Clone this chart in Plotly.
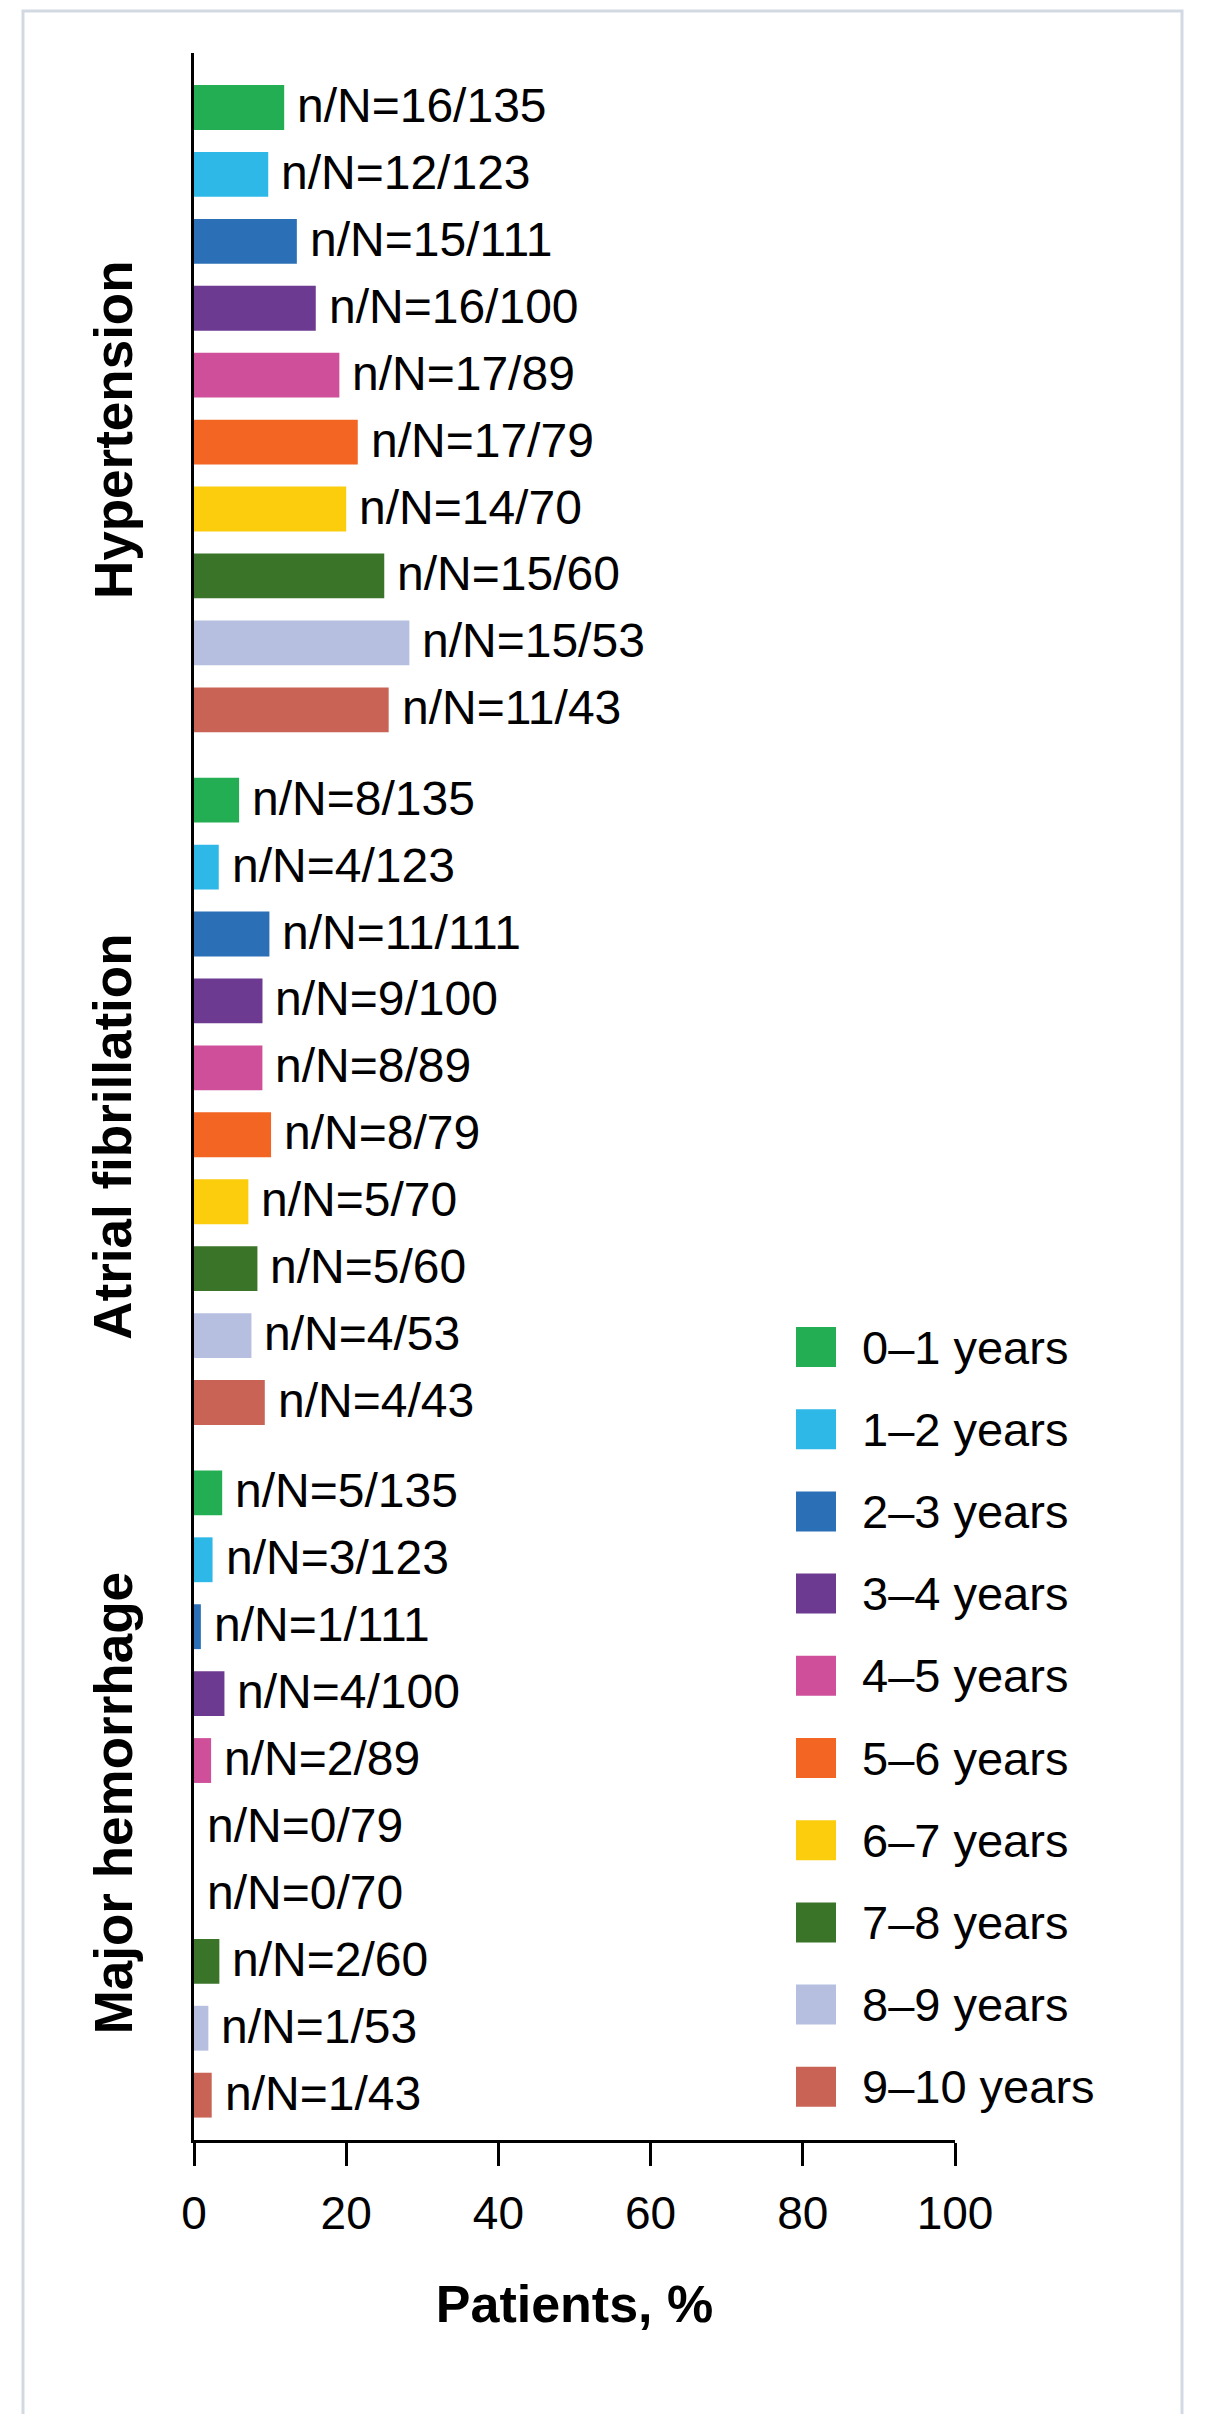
import plotly.graph_objects as go

# ---- data -------------------------------------------------------------
groups = ["Hypertension", "Atrial fibrillation", "Major hemorrhage"]
periods = ["0–1 years", "1–2 years", "2–3 years", "3–4 years", "4–5 years",
           "5–6 years", "6–7 years", "7–8 years", "8–9 years", "9–10 years"]
N_at_risk = [135, 123, 111, 100, 89, 79, 70, 60, 53, 43]
n_hypertension = [16, 12, 15, 16, 17, 17, 14, 15, 15, 11]
n_atrial_fib = [8, 4, 11, 9, 8, 8, 5, 5, 4, 4]
n_major_hem = [5, 3, 1, 4, 2, 0, 0, 2, 1, 1]
colors = ["#24AE54", "#2EB8E8", "#2B6FB6", "#6D3A91", "#CF4F9A",
          "#F26522", "#FBCD0C", "#3A7428", "#B6BFE0", "#C96355"]

counts = [n_hypertension, n_atrial_fib, n_major_hem]

# ---- layout constants -------------------------------------------------
W, H = 1219, 2414
ML, MR, MT, MB = 194, 264, 53, 274
PW, PH = W - ML - MR, H - MT - MB
FONT = "Arial, 'Liberation Sans', Helvetica, sans-serif"
GROUP_GAP = 0.35


def px_x(x):
    return (x - ML) / PW


def px_y(y):
    return (H - MB - y) / PH


def row_pos(g, i):
    return g * (10 + GROUP_GAP) + i


fig = go.Figure()
annotations = []

for i, period in enumerate(periods):
    ys, xs = [], []
    for g in range(len(groups)):
        ys.append(row_pos(g, i))
        xs.append(100.0 * counts[g][i] / N_at_risk[i])
    fig.add_trace(go.Bar(
        x=xs, y=ys, orientation="h", width=0.67,
        marker=dict(color=colors[i], line=dict(width=0)),
        name=period, showlegend=False, hoverinfo="skip",
    ))
    for g in range(len(groups)):
        annotations.append(dict(
            x=xs[g], y=ys[g], xref="x", yref="y",
            text=f"n/N={counts[g][i]}/{N_at_risk[i]}",
            showarrow=False, xanchor="left", yanchor="middle",
            xshift=11, yshift=2,
            font=dict(family=FONT, size=48, color="#000000"),
        ))

# group labels on the left, rotated
group_label_y = [4.82, 15.38, 25.34]
for g, name in enumerate(groups):
    annotations.append(dict(
        x=px_x(113), y=group_label_y[g], xref="paper", yref="y",
        text=f"<b>{name}</b>", textangle=-90, showarrow=False,
        xanchor="center", yanchor="middle",
        font=dict(family=FONT, size=53, color="#000000"),
    ))

# legend: coloured squares with period labels
shapes = []
LEG_Y0, LEG_DY, SW = 1347, 82.2, 40
for i, period in enumerate(periods):
    cy = LEG_Y0 + i * LEG_DY
    shapes.append(dict(
        type="rect", xref="paper", yref="paper",
        x0=px_x(796), x1=px_x(796 + SW),
        y0=px_y(cy + SW / 2), y1=px_y(cy - SW / 2),
        fillcolor=colors[i], line=dict(width=0), layer="above",
    ))
    annotations.append(dict(
        x=px_x(860), y=px_y(cy), xref="paper", yref="paper",
        text=period, showarrow=False, xanchor="left", yanchor="middle",
        font=dict(family=FONT, size=47, color="#000000"),
    ))

# outer frame
shapes.append(dict(
    type="rect", xref="paper", yref="paper",
    x0=px_x(23), x1=px_x(1182), y0=px_y(2440), y1=px_y(11),
    line=dict(color="#D3D9E2", width=3), fillcolor="rgba(0,0,0,0)",
    layer="below",
))

fig.update_layout(
    width=W, height=H,
    margin=dict(l=ML, r=MR, t=MT, b=MB, autoexpand=False),
    paper_bgcolor="#FFFFFF", plot_bgcolor="#FFFFFF",
    barmode="overlay",
    font=dict(family=FONT, color="#000000"),
    annotations=annotations,
    shapes=shapes,
    showlegend=False,
)

fig.update_xaxes(
    range=[0, 100], tickvals=[0, 20, 40, 60, 80, 100],
    showgrid=False, zeroline=False,
    showline=True, linecolor="#000000", linewidth=3,
    ticks="outside", ticklen=23, tickwidth=3, tickcolor="#000000",
    tickfont=dict(family=FONT, size=46, color="#000000"),
    ticklabelstandoff=8,
    title=dict(text="<b>Patients, %</b>", standoff=48,
               font=dict(family=FONT, size=52, color="#000000")),
)
fig.update_yaxes(
    range=[30.37, -0.814], showgrid=False, zeroline=False,
    showline=True, linecolor="#000000", linewidth=3,
    showticklabels=False, ticks="",
)

fig.write_html("out.html")
